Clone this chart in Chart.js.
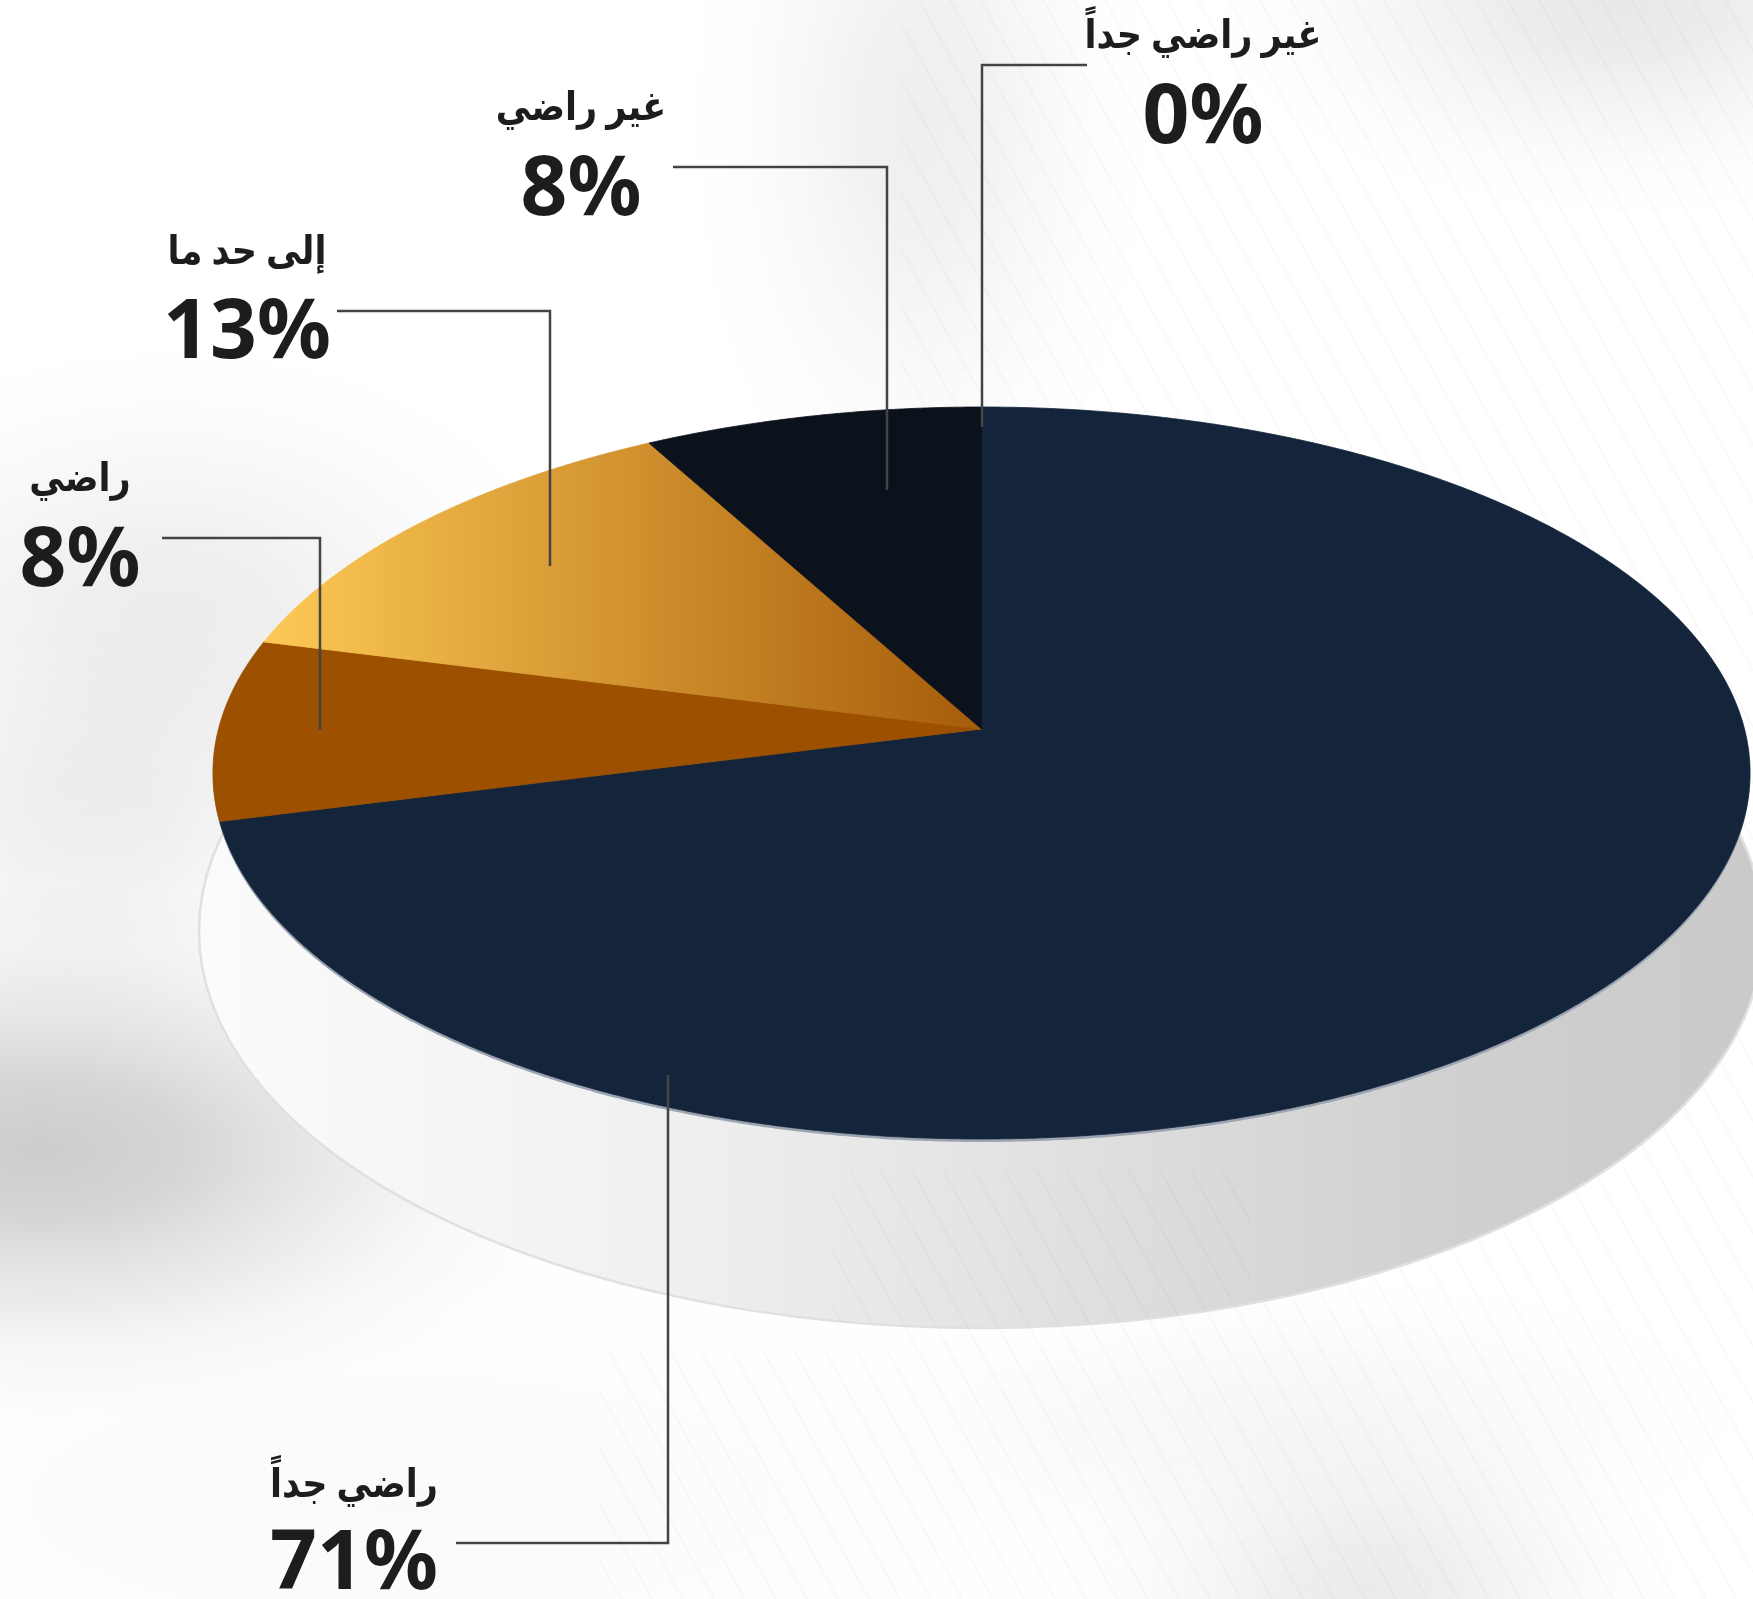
<!DOCTYPE html>
<html lang="ar">
<head>
<meta charset="utf-8">
<title>مستوى الرضا</title>
<script src="https://cdn.jsdelivr.net/npm/chart.js@4/dist/chart.umd.min.js"></script>
<style>
  html, body { margin: 0; padding: 0; background: #fff; }
  canvas { display: block; }
</style>
</head>
<body>
<canvas id="chart" width="1753" height="1599"></canvas>
<script>
const categories = ["راضي جداً", "راضي", "إلى حد ما", "غير راضي", "غير راضي جداً"];
const shares = [71, 8, 13, 8, 0];
const percentLabels = ["71%", "8%", "13%", "8%", "0%"];

// leader line and caption placement, same order as the categories
const captionX = [354, 80, 247, 581, 1203];
const captionNameY = [1497, 491, 264, 120, 48];
const captionShareY = [1589, 586, 358, 215, 143];
const leaderPaths = [
  [[456, 1543], [668, 1543], [668, 1075]],
  [[162, 538], [320, 538], [320, 730]],
  [[337, 311], [550, 311], [550, 566]],
  [[673, 167], [887, 167], [887, 490]],
  [[1087, 65], [982, 65], [982, 427]],
];

// tilted disc: the pie's circle is projected on to this plane
const disc = { x: 981.5, y: 729, a: 763, b: 360.7, k: 0.1202 };

const project = (angle) => {
  const u = Math.cos(angle);
  const v = Math.sin(angle);
  const w = 1 - disc.k * v;
  return [disc.x + (disc.a * u) / w, disc.y + (disc.b * v) / w];
};

const traceSlice = (ctx, start, end, dy = 0) => {
  const steps = Math.max(2, Math.ceil((end - start) / 0.005));
  ctx.beginPath();
  ctx.moveTo(disc.x, disc.y + dy);
  for (let i = 0; i <= steps; i++) {
    const [x, y] = project(start + ((end - start) * i) / steps);
    ctx.lineTo(x, y + dy);
  }
  ctx.closePath();
};

const blob = (ctx, x, y, rx, ry, alpha) => {
  ctx.save();
  ctx.translate(x, y);
  ctx.scale(rx, ry);
  const g = ctx.createRadialGradient(0, 0, 0, 0, 0, 1);
  g.addColorStop(0, `rgba(0,0,0,${alpha})`);
  g.addColorStop(0.25, `rgba(0,0,0,${alpha * 0.82})`);
  g.addColorStop(0.5, `rgba(0,0,0,${alpha * 0.45})`);
  g.addColorStop(0.75, `rgba(0,0,0,${alpha * 0.14})`);
  g.addColorStop(1, "rgba(0,0,0,0)");
  ctx.fillStyle = g;
  ctx.fillRect(-1, -1, 2, 2);
  ctx.restore();
};

const stripes = (ctx, alpha) => {
  ctx.strokeStyle = `rgba(0,0,0,${alpha})`;
  ctx.lineWidth = 2;
  for (let x = -600; x < 1800; x += 31) {
    ctx.beginPath();
    ctx.moveTo(x, 0);
    ctx.lineTo(x + 880, 1599);
    ctx.stroke();
  }
};

const backdrop = {
  id: "backdrop",
  beforeDraw(chart) {
    const { ctx, width, height } = chart;
    ctx.save();
    ctx.fillStyle = "#fff";
    ctx.fillRect(0, 0, width, height);

    blob(ctx, 1620, 0, 420, 220, 0.09);
    blob(ctx, 920, 120, 240, 460, 0.065);
    blob(ctx, 170, 620, 420, 280, 0.075);
    blob(ctx, 90, 840, 300, 230, 0.06);
    blob(ctx, 40, 1150, 560, 270, 0.2);
    blob(ctx, 400, 1500, 900, 300, 0.02);
    blob(ctx, 1370, 1590, 320, 190, 0.08);
    blob(ctx, 1300, 1420, 500, 160, 0.035);

    // faint diagonal hatching on the right part of the page
    ctx.save();
    ctx.beginPath();
    ctx.rect(900, 0, 853, height);
    ctx.rect(600, 1350, 300, 249);
    ctx.clip();
    stripes(ctx, 0.022);
    ctx.restore();

    // the disc's side wall
    const wall = ctx.createLinearGradient(200, 0, 1753, 0);
    wall.addColorStop(0, "#fbfbfb");
    wall.addColorStop(0.28, "#f1f1f1");
    wall.addColorStop(0.5, "#e4e4e4");
    wall.addColorStop(0.8, "#d0d0d0");
    wall.addColorStop(1, "#cacaca");
    ctx.beginPath();
    ctx.ellipse(981, 931, 782, 397, 0, 0, Math.PI * 2);
    ctx.fillStyle = wall;
    ctx.fill();
    ctx.strokeStyle = "#e0e0e0";
    ctx.lineWidth = 2.5;
    ctx.stroke();

    ctx.save();
    ctx.beginPath();
    ctx.ellipse(981, 931, 782, 397, 0, 0, Math.PI * 2);
    ctx.clip();
    ctx.beginPath();
    ctx.rect(830, 1170, 420, 180);
    ctx.clip();
    stripes(ctx, 0.025);
    ctx.restore();
    ctx.restore();
  },
  beforeDatasetDraw(chart, args) {
    const { ctx } = chart;
    const arcs = args.meta.data;
    ctx.save();
    // pale rim under the front edge
    arcs.forEach((arc) => {
      if (arc.endAngle - arc.startAngle < 0.001) return;
      traceSlice(ctx, arc.startAngle, arc.endAngle, 3);
      ctx.fillStyle = "#9ba4b0";
      ctx.fill();
    });
    arcs.forEach((arc) => {
      if (arc.endAngle - arc.startAngle < 0.001) return;
      traceSlice(ctx, arc.startAngle, arc.endAngle);
      ctx.fillStyle = arc.options.backgroundColor;
      ctx.strokeStyle = arc.options.backgroundColor;
      ctx.lineWidth = 0.8;
      ctx.fill();
      ctx.stroke();
    });
    ctx.restore();
    return false;
  },
  afterDatasetsDraw(chart) {
    const { ctx } = chart;
    ctx.save();
    ctx.strokeStyle = "#444";
    ctx.lineWidth = 2.5;
    leaderPaths.forEach((points) => {
      ctx.beginPath();
      points.forEach(([x, y], i) => (i ? ctx.lineTo(x, y) : ctx.moveTo(x, y)));
      ctx.stroke();
    });

    ctx.fillStyle = "#1d1d1d";
    ctx.textAlign = "center";
    ctx.textBaseline = "alphabetic";
    categories.forEach((name, i) => {
      ctx.direction = "rtl";
      ctx.font = 'bold 40px "Noto Sans", "DejaVu Sans", sans-serif';
      // the Arabic face runs wide, squeeze it a little
      ctx.fillText(name, captionX[i], captionNameY[i], ctx.measureText(name).width * 0.875);
      ctx.direction = "ltr";
      ctx.font = 'bold 82px "Noto Sans", sans-serif';
      ctx.fillText(percentLabels[i], captionX[i], captionShareY[i]);
    });
    ctx.restore();
  },
};

const canvas = document.getElementById("chart");
const goldFade = canvas.getContext("2d").createLinearGradient(265, 0, 981, 0);
goldFade.addColorStop(0, "#fdc955");
goldFade.addColorStop(1, "#a65c0a");

new Chart(canvas, {
  type: "pie",
  data: {
    labels: categories,
    datasets: [
      {
        data: shares,
        backgroundColor: ["#14243b", "#9c5000", goldFade, "#0b121b", "#0b121b"],
        borderWidth: 0,
      },
    ],
  },
  options: {
    responsive: false,
    animation: false,
    plugins: {
      legend: { display: false },
      tooltip: { enabled: false },
    },
  },
  plugins: [backdrop],
});
</script>
</body>
</html>
